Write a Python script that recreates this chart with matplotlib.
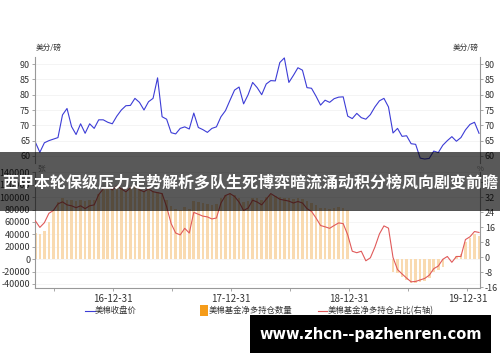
import numpy as np
import pandas as pd
import matplotlib
matplotlib.use('Agg')
import matplotlib.pyplot as plt
from matplotlib.patches import Rectangle
from matplotlib.lines import Line2D

plt.rcParams['font.family'] = ['Noto Sans CJK SC', 'DejaVu Sans']
plt.rcParams['axes.unicode_minus'] = False

# Données (relevées toutes les deux semaines)
dates = pd.date_range('2016-05-04', periods=99, freq='14D')

prix = [64.5, 61.2, 64.3, 65.0, 65.5, 66.0, 73.4, 75.5, 69.6, 67.0,
        70.5, 67.4, 70.5, 69.0, 71.8, 71.8, 71.0, 70.5, 73.0, 75.0,
        76.4, 76.5, 78.8, 77.5, 75.0, 77.7, 78.8, 85.5, 72.8, 72.0,
        67.6, 67.2, 69.0, 69.5, 68.8, 74.0, 69.3, 68.6, 67.7, 69.0,
        69.5, 72.8, 74.8, 78.2, 81.5, 82.5, 77.0, 80.0, 84.0, 82.3,
        80.0, 83.5, 84.6, 84.5, 90.5, 92.0, 84.0, 86.3, 88.8, 88.0,
        82.3, 82.1, 79.5, 76.6, 78.2, 77.5, 78.7, 79.2, 79.3, 73.0,
        72.2, 73.9, 72.5, 72.0, 73.5, 76.0, 78.0, 78.8, 76.0, 67.5,
        69.0, 66.4, 66.6, 64.0, 63.8, 59.3, 59.0, 59.2, 61.6, 61.1,
        63.5, 65.0, 66.3, 64.8, 66.0, 68.5, 70.3, 71.0, 67.4]

pct = [19.5, 16.0, 18.5, 23.5, 25.0, 28.5, 29.6, 28.0, 27.5, 26.5,
       27.5, 26.0, 27.5, 28.0, 33.5, 36.5, 37.5, 36.0, 38.0, 36.5,
       35.0, 37.0, 38.5, 36.0, 35.0, 36.5, 35.0, 34.5, 34.0, 27.0,
       18.0, 13.0, 12.0, 15.5, 13.0, 24.0, 23.0, 22.0, 21.6, 20.5,
       21.0, 29.0, 33.0, 34.0, 32.5, 29.5, 25.0, 26.3, 30.5, 29.5,
       28.0, 31.0, 34.0, 32.5, 31.0, 30.5, 30.0, 29.0, 29.8, 29.0,
       26.0, 24.5, 21.0, 17.0, 16.3, 15.5, 17.0, 18.4, 18.0, 12.0,
       3.3, 2.5, 3.3, -1.8, -0.2, 5.5, 12.5, 16.8, 15.6, 0.0,
       -6.5, -8.8, -11.0, -13.0, -12.8, -12.0, -11.2, -9.5, -6.0, -4.6,
       -1.0, 0.5, -2.6, 0.5, 0.5, 9.5, 11.0, 13.8, 13.3]

positions = [42000, 40000, 45000, 60000, 78000, 92000, 98000, 96000, 95000, 94000,
             95000, 93000, 95000, 96000, 105000, 112000, 115000, 112000, 116000, 113000,
             110000, 114000, 118000, 112000, 110000, 113000, 110000, 108000, 107000, 96000,
             86000, 81000, 80000, 84000, 81000, 93000, 92000, 90000, 89000, 88000,
             89000, 98000, 104000, 106000, 103000, 98000, 92000, 94000, 99000, 98000,
             96000, 100000, 104000, 102000, 100000, 99000, 98000, 97000, 98000, 97000,
             93000, 91000, 87000, 83000, 82000, 81000, 83000, 84000, 83000, 80000,
             0, 0, 0, 0, 0, 0, 0, 0, 0, -20000,
             -22000, -28000, -33000, -38000, -38000, -37000, -35000, -30000, -20000, -17000,
             -12000, 0, 0, 5000, 8000, 28000, 34000, 40000, 38000]

annees = ['2016-12-31', '2017-12-31', '2018-12-31', '2019-12-31']
etiquettes = ['16-12-31', '17-12-31', '18-12-31', '19-12-31']
mi_annees = ['2016-06-30', '2017-06-30', '2018-06-30', '2019-06-30']

titre = '西甲本轮保级压力走势解析多队生死博弈暗流涌动积分榜风向剧变前瞻'
site = 'www.zhcn--pazhenren.com'

bleu = '#3c3cd6'
rouge = '#e05a5a'
orange = '#f59c1a'
gris = '#999999'
texte = '#333333'
xmin, xmax = pd.Timestamp('2016-05-03'), pd.Timestamp('2020-02-08')

fig = plt.figure(figsize=(5, 3.62), dpi=100)


def style_axe(ax):
    for s in ['top', 'bottom', 'left', 'right']:
        ax.spines[s].set_visible(False)
    ax.tick_params(axis='both', labelsize=6.5, colors=gris, labelcolor=texte,
                   length=2.5, width=0.6, pad=1)


# Panneau supérieur : prix
ax1 = fig.add_axes([0.07, 0.5497, 0.89, 0.2928])
ax1b = ax1.twinx()
ax1.plot(dates, prix, color=bleu, lw=0.8)
for ax in (ax1, ax1b):
    style_axe(ax)
    ax.set_ylim(57.7, 92.3)
    ax.set_yticks([60, 65, 70, 75, 80, 85, 90])
    ax.set_xlim(xmin, xmax)
ax1.spines['left'].set_visible(True)
ax1.spines['left'].set_color(gris)
ax1b.spines['right'].set_visible(True)
ax1b.spines['right'].set_color(gris)
ax1.set_xticks([])
ax1.grid(axis='y', color='#f2f2f2', lw=0.6)
ax1.set_axisbelow(True)
fig.text(0.072, 0.862, '美分/磅', fontsize=5.5, color=texte)
fig.text(0.958, 0.862, '美分/磅', fontsize=5.5, color=texte, ha='right')

# Panneau inférieur : positions et pourcentage
ax2 = fig.add_axes([0.07, 0.2044, 0.89, 0.3204])
ax2b = ax2.twinx()
ax2.bar(dates, positions, width=8, color='#f9dab0', lw=0)
ax2b.plot(dates, pct, color=rouge, lw=0.8)
for ax in (ax2, ax2b):
    style_axe(ax)
    ax.set_xlim(xmin, xmax)
ax2.set_ylim(-46500, 140500)
ax2.set_yticks(np.arange(-40000, 140001, 20000))
ax2b.set_ylim(-16.3, 45.5)
ax2b.set_yticks(np.arange(-16, 41, 8))
ax2.spines['left'].set_visible(True)
ax2.spines['left'].set_color(gris)
ax2b.spines['right'].set_visible(True)
ax2b.spines['right'].set_color(gris)
ax2.spines['bottom'].set_visible(True)
ax2.spines['bottom'].set_color(gris)
ax2.set_xticks(pd.to_datetime(annees))
ax2.set_xticklabels(etiquettes)
ax2.set_xticks(pd.to_datetime(mi_annees), minor=True)
ax2.tick_params(axis='x', which='minor', length=2, color=gris)
ax2.tick_params(axis='x', labelsize=7, pad=2)
ax2.grid(axis='y', color='#f4f4f4', lw=0.6)
ax2.set_axisbelow(True)
fig.text(0.074, 0.527, '张', fontsize=5.5, color=texte)
fig.text(0.953, 0.527, '%', fontsize=5.5, color=texte)

# Légende
ly = 0.1417
fig.add_artist(Line2D([0.17, 0.19], [ly, ly], color=bleu, lw=0.8))
fig.text(0.19, ly, '美棉收盘价', fontsize=6, color=texte, va='center')
fig.add_artist(Rectangle((0.40, ly - 0.015), 0.016, 0.03, color=orange, lw=0))
fig.text(0.418, ly, '美棉基金净多持仓数量', fontsize=6, color=texte, va='center')
fig.add_artist(Line2D([0.636, 0.654], [ly, ly], color=rouge, lw=0.8))
fig.text(0.655, ly, '美棉基金净多持仓占比(右轴)', fontsize=6, color=texte, va='center')

# Bandeau de titre
fig.add_artist(Rectangle((0, 1 - 211 / 362), 1, 59 / 362, color='black', alpha=0.65, lw=0))
fig.text(0.5, 0.4945, titre, fontsize=11.5, fontweight='bold', color='white',
         ha='center', va='center')

# Filigrane
fig.add_artist(Rectangle((0.5, 1 - 353 / 362), 0.482, 38 / 362, color='black', lw=0))
fig.text(0.741, 1 - 334 / 362, site, fontsize=10.5, fontweight='bold', color='white',
         ha='center', va='center', family='DejaVu Sans')

fig.savefig('out.png', dpi=100)
